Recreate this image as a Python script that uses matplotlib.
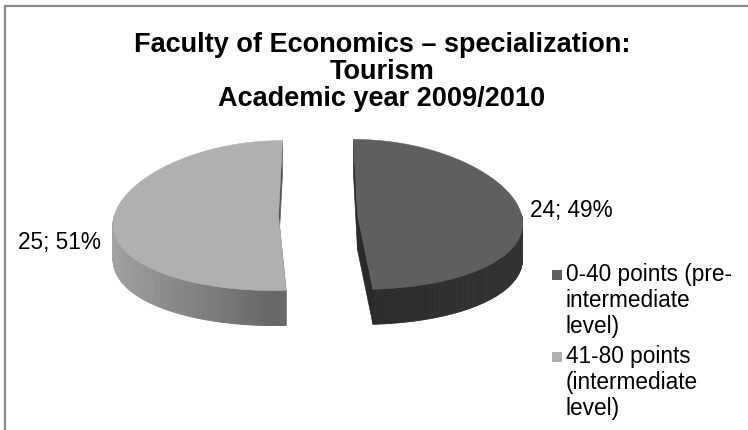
import numpy as np
import matplotlib
matplotlib.use("Agg")
import matplotlib.pyplot as plt
from matplotlib.patches import Polygon, Rectangle
from matplotlib.collections import PolyCollection

plt.rcParams["font.family"] = ["Liberation Sans", "DejaVu Sans"]

# ---- data -------------------------------------------------------------
title_lines = ["Faculty of Economics \u2013 specialization:", "Tourism",
               "Academic year 2009/2010"]
categories = ["0-40 points (pre-\nintermediate\nlevel)",
              "41-80 points\n(intermediate\nlevel)"]
counts = [24, 25]

# ---- style ------------------------------------------------------------
top_colors = ["#5f5f5f", "#b0b0b0"]
cut_colors = ["#2a2a2a", "#585858"]
side_shades = [(0.17, 0.20), (0.40, 0.64)]   # (front, flank) grey levels
legend_colors = ["#5f5f5f", "#b0b0b0"]

W, H = 748, 430
fig = plt.figure(figsize=(W / 100, H / 100), dpi=100)
ax = fig.add_axes([0, 0, 1, 1])
ax.set_xlim(0, W)
ax.set_ylim(H, 0)
ax.axis("off")

# chart frame (left and top edges)
ax.plot([5.5, 5.5, W], [H, 5.5, 5.5], color="#8a8a8a", lw=1.6,
        solid_joinstyle="miter")

# ---- 3D exploded pie --------------------------------------------------
cx, cy = 318, 215          # centre of the top face
R, r = 164, 75             # horizontal / vertical radii
thick = 35                 # extrusion height
explode = 0.241            # radial offset of each slice (radius units)
persp = 0.10               # horizontal foreshortening with depth

def project(X, D, h=0.0):
    s = 1.0 - persp * D
    return cx + R * X * s, cy - r * D + h

total = float(sum(counts))
edges = np.concatenate([[0.0], np.cumsum(counts) / total * 360.0])

for i, val in enumerate(counts):
    a0, a1 = edges[i], edges[i + 1]
    am = np.radians((a0 + a1) / 2)
    ox, od = explode * np.sin(am), explode * np.cos(am)

    def rim(phi_deg, h=0.0):
        p = np.radians(phi_deg)
        return project(ox + np.sin(p), od + np.cos(p), h)

    centre_top = project(ox, od)
    centre_bot = project(ox, od, thick)

    # radial cut faces
    for a in (a0, a1):
        poly = [centre_top, rim(a), rim(a, thick), centre_bot]
        ax.add_patch(Polygon(poly, closed=True, facecolor=cut_colors[i],
                             edgecolor=cut_colors[i], lw=0.5))

    # curved outer wall (front half only)
    lo, hi = max(a0, 90.0), min(a1, 270.0)
    if lo < hi:
        phis = np.linspace(lo, hi, 120)
        quads, cols = [], []
        front, flank = side_shades[i]
        for p0, p1 in zip(phis[:-1], phis[1:]):
            quads.append([rim(p0), rim(p1), rim(p1, thick), rim(p0, thick)])
            pm = np.radians((p0 + p1) / 2)
            g = front + (flank - front) * abs(np.sin(pm))
            cols.append((g, g, g))
        ax.add_collection(PolyCollection(quads, facecolors=cols,
                                         edgecolors=cols, linewidths=0.6))

    # top face
    phis = np.linspace(a0, a1, 240)
    pts = [centre_top] + [rim(p) for p in phis]
    ax.add_patch(Polygon(pts, closed=True, facecolor=top_colors[i],
                         edgecolor=top_colors[i], lw=0.4))

# ---- data labels ------------------------------------------------------
pcts = [round(100 * c / total) for c in counts]
label_pos = [(530, 210, "left"), (101, 243, "right")]
for c, p, (lx, ly, ha) in zip(counts, pcts, label_pos):
    ax.text(lx, ly, f"{c}; {p}%", ha=ha, va="center", fontsize=16.3,
            color="#000000")

# ---- title ------------------------------------------------------------
ax.text(382, 72, "\n".join(title_lines), ha="center", va="center",
        fontsize=19.5, fontweight="bold", linespacing=1.03, color="#000000")

# ---- legend -----------------------------------------------------------
leg_x, leg_y = 552, 263
entry_gap = 82
for k, (lab, col) in enumerate(zip(categories, legend_colors)):
    y0 = leg_y + k * entry_gap
    ax.add_patch(Rectangle((leg_x, y0 + 7), 10, 10, facecolor=col,
                           edgecolor="none"))
    ax.text(leg_x + 14, y0, lab, ha="left", va="top", fontsize=16.3,
            linespacing=1.17, color="#000000")

fig.savefig("out.png", dpi=100)
